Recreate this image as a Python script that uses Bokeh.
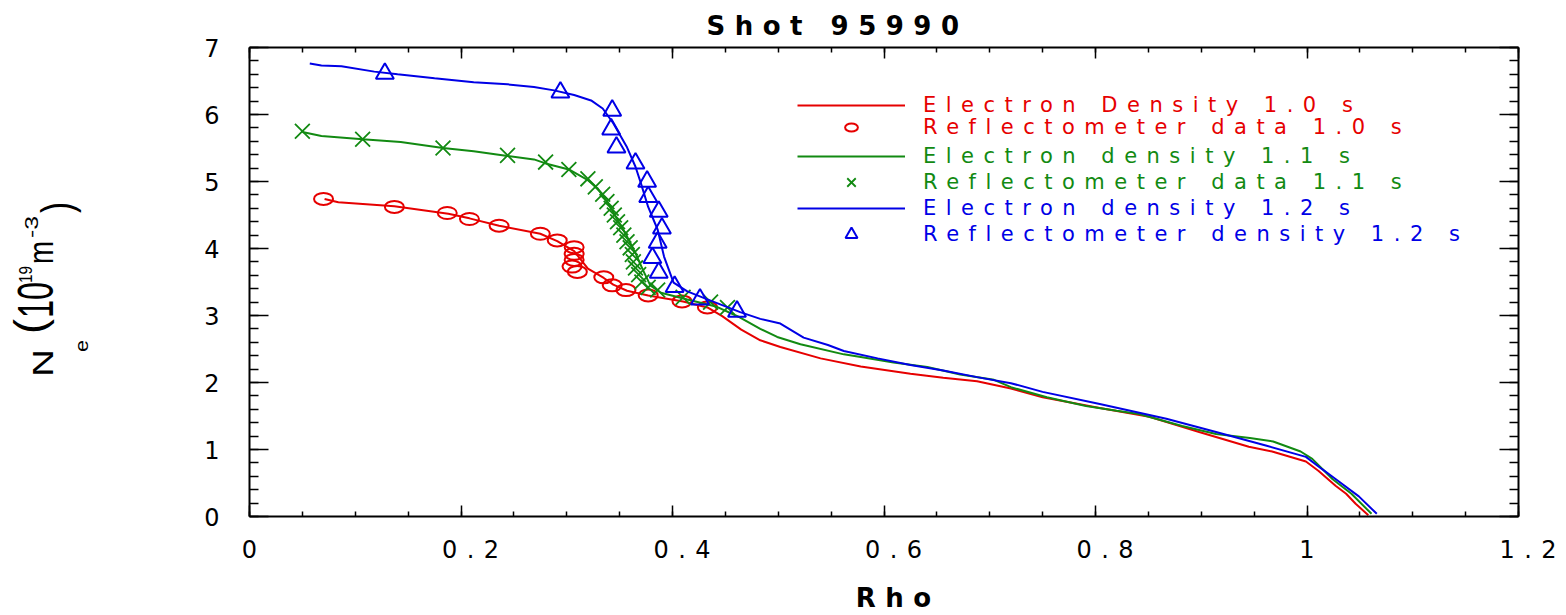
import numpy as np
from bokeh.plotting import figure
from bokeh.models import (Range1d, LinearAxis, FixedTicker, Legend, LegendItem,
                          CustomJSTickFormatter, Div)
from bokeh.layouts import row
from bokeh.embed import file_html
from bokeh.resources import INLINE

# ---------------- data ----------------
TITLE = "Shot   95990"
X_LABEL = "Rho"
X_TICKS = [0.0, 0.2, 0.4, 0.6, 0.8, 1.0, 1.2]
X_TICK_LABELS = ["0", "0.2", "0.4", "0.6", "0.8", "1", "1.2"]
Y_TICKS = [0, 1, 2, 3, 4, 5, 6, 7]
Y_TICK_LABELS = ["0", "1", "2", "3", "4", "5", "6", "7"]
# y-axis label N_e (10^19 m^-3), as pieces
Y_LABEL_PIECES = ["N", "e", "(", "10", "19", "m", "-3", ")"]

SERIES_LABELS = ["Electron Density 1.0 s", "Reflectometer data 1.0 s",
                 "Electron density 1.1 s", "Reflectometer data 1.1 s",
                 "Electron density 1.2 s", "Reflectometer density 1.2 s"]

# Electron density profile, 1.0 s
rho_10 = [0.071, 0.084, 0.137, 0.188, 0.208, 0.236, 0.275, 0.291, 0.307, 0.320, 0.335, 0.344,
          0.357, 0.377, 0.410, 0.433, 0.447, 0.465, 0.483, 0.502, 0.540, 0.578, 0.625, 0.656,
          0.688, 0.720, 0.750, 0.804, 0.851, 0.898, 0.945, 0.967, 0.999, 1.011, 1.027, 1.037,
          1.046, 1.058]
ne_10 = [4.74, 4.69, 4.63, 4.52, 4.45, 4.34, 4.22, 4.11, 3.96, 3.70, 3.56, 3.46,
         3.37, 3.30, 3.21, 3.12, 2.99, 2.79, 2.63, 2.53, 2.36, 2.24, 2.13, 2.07,
         2.02, 1.91, 1.78, 1.62, 1.49, 1.26, 1.04, 0.97, 0.82, 0.68, 0.46, 0.34,
         0.19, 0.02]
# Reflectometer data, 1.0 s
refl_rho_10 = [0.070, 0.137, 0.187, 0.208, 0.236, 0.275, 0.291, 0.307, 0.307, 0.307, 0.305,
               0.310, 0.335, 0.343, 0.356, 0.377, 0.409, 0.433]
refl_ne_10 = [4.74, 4.62, 4.53, 4.44, 4.34, 4.22, 4.12, 4.02, 3.92, 3.83, 3.73,
              3.65, 3.57, 3.45, 3.38, 3.30, 3.21, 3.12]

# Electron density profile, 1.1 s
rho_11 = [0.050, 0.068, 0.107, 0.143, 0.183, 0.212, 0.244, 0.269, 0.280, 0.302, 0.320, 0.329,
          0.339, 0.348, 0.357, 0.365, 0.372, 0.379, 0.389, 0.414, 0.442, 0.464, 0.483, 0.499,
          0.521, 0.562, 0.578, 0.609, 0.641, 0.672, 0.704, 0.720, 0.754, 0.791, 0.820, 0.841,
          0.882, 0.914, 0.946, 0.968, 0.994, 1.005, 1.024, 1.042, 1.061]
ne_11 = [5.74, 5.68, 5.63, 5.59, 5.50, 5.45, 5.38, 5.33, 5.27, 5.18, 5.02, 4.90,
         4.68, 4.43, 4.18, 3.93, 3.68, 3.45, 3.34, 3.24, 3.13, 2.97, 2.80, 2.68,
         2.57, 2.42, 2.38, 2.30, 2.23, 2.12, 2.04, 1.93, 1.78, 1.65, 1.58, 1.53,
         1.35, 1.23, 1.17, 1.12, 0.97, 0.86, 0.56, 0.34, 0.04]
# Reflectometer data, 1.1 s
refl_rho_11 = [0.050, 0.107, 0.183, 0.244, 0.280, 0.302, 0.320, 0.327, 0.334, 0.338, 0.342,
               0.345, 0.348, 0.351, 0.354, 0.357, 0.360, 0.362, 0.363, 0.365, 0.368, 0.371,
               0.377, 0.386, 0.410, 0.436, 0.452]
refl_ne_11 = [5.75, 5.63, 5.50, 5.39, 5.29, 5.18, 5.04, 4.92, 4.81, 4.70, 4.60,
              4.50, 4.40, 4.31, 4.20, 4.10, 4.01, 3.91, 3.80, 3.71, 3.61, 3.50,
              3.42, 3.38, 3.27, 3.20, 3.12]

# Electron density profile, 1.2 s
rho_12 = [0.057, 0.068, 0.087, 0.118, 0.140, 0.175, 0.212, 0.244, 0.269, 0.288, 0.307, 0.323,
          0.334, 0.344, 0.357, 0.365, 0.370, 0.377, 0.386, 0.392, 0.401, 0.414, 0.433, 0.464,
          0.483, 0.502, 0.524, 0.547, 0.562, 0.594, 0.625, 0.656, 0.688, 0.720, 0.750, 0.804,
          0.867, 0.914, 0.961, 0.999, 1.014, 1.027, 1.049, 1.066]
ne_12 = [6.76, 6.73, 6.72, 6.64, 6.60, 6.54, 6.48, 6.45, 6.41, 6.36, 6.29, 6.21,
         6.09, 5.87, 5.51, 5.22, 4.98, 4.62, 4.28, 3.88, 3.49, 3.36, 3.24, 3.05,
         2.95, 2.88, 2.67, 2.56, 2.47, 2.36, 2.26, 2.18, 2.08, 1.99, 1.86, 1.68,
         1.46, 1.26, 1.06, 0.89, 0.71, 0.56, 0.30, 0.04]
# Reflectometer density, 1.2 s
refl_rho_12 = [0.128, 0.294, 0.343, 0.342, 0.347, 0.365, 0.376, 0.377, 0.387, 0.390, 0.386,
               0.381, 0.387, 0.402, 0.426, 0.461]
refl_ne_12 = [6.61, 6.33, 6.06, 5.78, 5.51, 5.27, 5.00, 4.77, 4.55, 4.30, 4.09,
              3.86, 3.64, 3.43, 3.24, 3.06]

RED, GREEN, BLUE = "#e60000", "#128a12", "#0000e6"

# ---------------- layout geometry ----------------
W, H = 1566, 615
LABEL_W = 100                 # width of the y-label strip left of the figure
FRAME_L, FRAME_R, FRAME_T, FRAME_B = 249, 1518, 47, 517   # in page pixels

p = figure(width=W - LABEL_W, height=H, x_range=Range1d(0, 1.2), y_range=Range1d(0, 7),
           output_backend="svg", toolbar_location=None, title=TITLE,
           min_border_left=FRAME_L - LABEL_W, min_border_right=W - FRAME_R,
           min_border_top=FRAME_T, min_border_bottom=H - FRAME_B,
           x_axis_location=None, y_axis_location=None, margin=0)
p.styles = {"letter-spacing": "9.5px"}
p.grid.visible = False
p.outline_line_color = None
p.background_fill_color = "white"
p.border_fill_color = "white"

p.title.align = "left"
p.title.offset = 706 - FRAME_L
p.title.text_font = "DejaVu Sans"
p.title.text_font_size = "26px"
p.title.text_font_style = "bold"
p.title.text_color = "black"
p.title.standoff = 13

x_minor = list(np.round(np.arange(0, 1.2001, 0.05), 3))
y_minor = list(np.round(np.arange(0, 7.001, 0.2), 3))

fmt_code = "const i = tv.findIndex(t => Math.abs(t - tick) < 1e-6); return i >= 0 ? labs[i] : '';"
x_fmt = CustomJSTickFormatter(args=dict(tv=X_TICKS, labs=X_TICK_LABELS), code=fmt_code)
y_fmt = CustomJSTickFormatter(args=dict(tv=Y_TICKS, labs=Y_TICK_LABELS), code=fmt_code)
blank = CustomJSTickFormatter(code="return '';")


def style_axis(ax, major, minor, fmt):
    ax.formatter = fmt
    ax.axis_line_width = 2
    ax.axis_line_color = "black"
    ax.major_tick_line_width = 1.5
    ax.minor_tick_line_width = 1.5
    ax.major_tick_line_color = "black"
    ax.minor_tick_line_color = "black"
    ax.major_tick_in = major
    ax.major_tick_out = 0
    ax.minor_tick_in = minor
    ax.minor_tick_out = 0
    ax.major_label_text_font = "DejaVu Sans"
    ax.major_label_text_font_size = "24px"
    ax.major_label_text_color = "black"


bottom = LinearAxis(ticker=FixedTicker(ticks=X_TICKS, minor_ticks=x_minor))
style_axis(bottom, 11, 5, x_fmt)
bottom.major_label_standoff = 23
bottom.major_label_text_line_height = 1.0
bottom.axis_label = X_LABEL
bottom.axis_label_text_font = "DejaVu Sans"
bottom.axis_label_text_font_size = "26px"
bottom.axis_label_text_font_style = "bold"
bottom.axis_label_text_color = "black"
bottom.axis_label_text_line_height = 0.8
bottom.axis_label_standoff = 22
top = LinearAxis(ticker=FixedTicker(ticks=X_TICKS, minor_ticks=x_minor))
style_axis(top, 11, 5, blank)
top.major_label_standoff = 0
left = LinearAxis(ticker=FixedTicker(ticks=Y_TICKS, minor_ticks=y_minor))
style_axis(left, 19, 9, y_fmt)
left.major_label_standoff = 30
right = LinearAxis(ticker=FixedTicker(ticks=Y_TICKS, minor_ticks=y_minor))
style_axis(right, 19, 9, blank)
right.major_label_standoff = 0
p.add_layout(bottom, "below")
p.add_layout(top, "above")
p.add_layout(left, "left")
p.add_layout(right, "right")

# ---------------- glyphs ----------------
r1 = p.line(rho_10, ne_10, line_color=RED, line_width=2)
r2 = p.ellipse(refl_rho_10, refl_ne_10, width=19, height=12, width_units="screen",
               height_units="screen", fill_color=None, line_color=RED, line_width=2)
r3 = p.line(rho_11, ne_11, line_color=GREEN, line_width=2)
r4 = p.scatter(refl_rho_11, refl_ne_11, marker="x", size=21, line_color=GREEN, line_width=1.8)
r5 = p.line(rho_12, ne_12, line_color=BLUE, line_width=2)
r6 = p.scatter(refl_rho_12, refl_ne_12, marker="triangle", size=18, fill_color=None,
               line_color=BLUE, line_width=2)

# ---------------- legend (one per entry for per-entry text colour) ----------------
renderers = [r1, r2, r3, r4, r5, r6]
colors = [RED, RED, GREEN, GREEN, BLUE, BLUE]
row_centers = [106, 132, 157, 183, 209, 235]
glyph_heights = [26, 16, 26, 30, 26, 30]
for lab, rend, col, yc, gh in zip(SERIES_LABELS, renderers, colors, row_centers, glyph_heights):
    lg = Legend(items=[LegendItem(label=lab, renderers=[rend])],
                location=(797 - FRAME_L, FRAME_B - (yc + gh / 2)),
                glyph_width=108, glyph_height=gh, label_height=gh, label_standoff=18,
                spacing=0, padding=0, margin=0, border_line_color=None,
                background_fill_alpha=0, label_text_font="DejaVu Sans",
                label_text_font_size="21px", label_text_color=col,
                label_text_baseline="middle")
    p.add_layout(lg, "center")

# ---------------- y-axis label strip (SVG text, rotated) ----------------
# font size, baseline x, start y (bottom), length along the text
placement = [(30, 53, 377, 28), (19, 88, 352, 12), (45, 45, 334, 15), (50, 53, 318, 36),
             (18, 32, 283, 17), (35, 53, 264, 23), (18, 38, 238, 22), (45, 72, 213, 11)]
svg_texts = []
for txt, (fs, bx, sy, ln) in zip(Y_LABEL_PIECES, placement):
    svg_texts.append(
        f'<text x="{bx}" y="{sy}" transform="rotate(-90 {bx} {sy})" '
        f'font-family="Liberation Sans" font-size="{fs}" fill="black" '
        f'textLength="{ln}" lengthAdjust="spacingAndGlyphs">{txt}</text>')
ylabel = Div(text=f'<svg width="{LABEL_W}" height="{H}" style="display:block">'
                  + "".join(svg_texts) + "</svg>",
             width=LABEL_W, height=H, margin=0)

layout = row(ylabel, p, spacing=0)
open("out.html", "w").write(file_html(layout, INLINE))
